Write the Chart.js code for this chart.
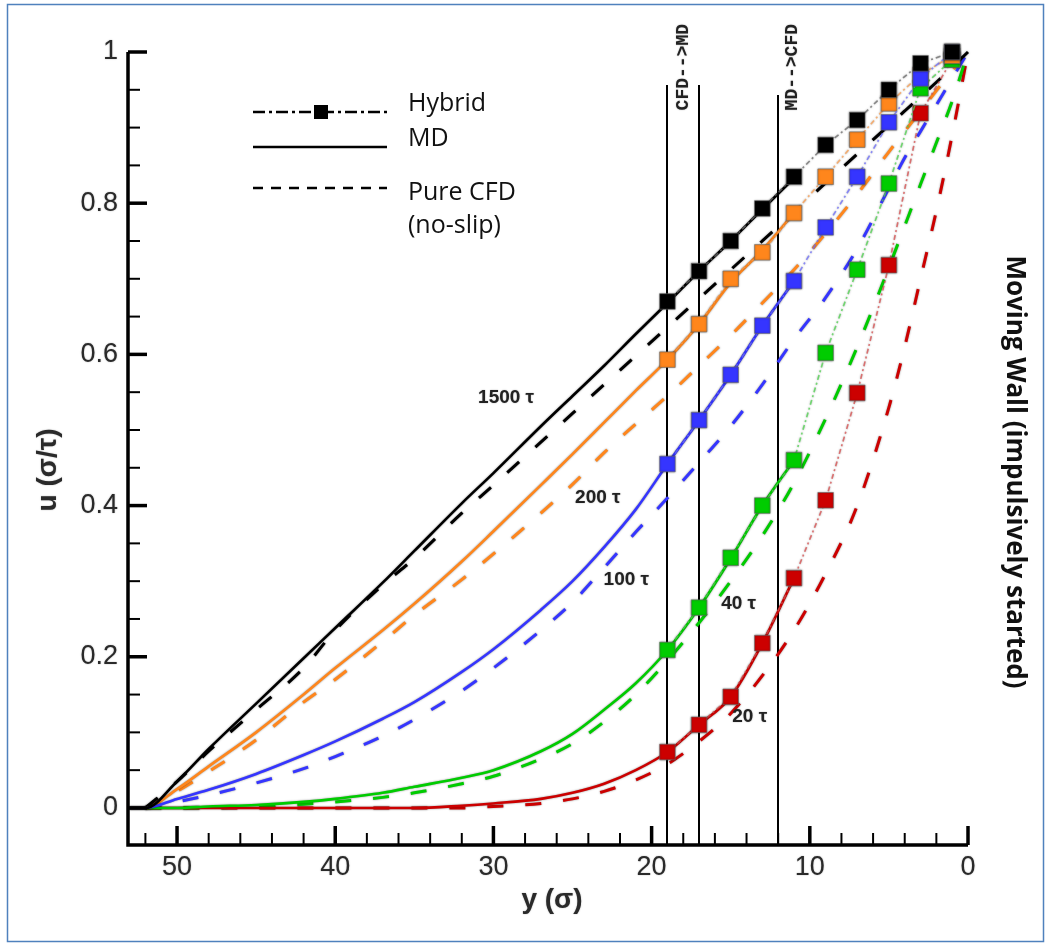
<!DOCTYPE html>
<html>
<head>
<meta charset="utf-8">
<script src="https://cdn.jsdelivr.net/npm/chart.js@4.4.1/dist/chart.umd.min.js"></script>
<style>
  html, body { margin: 0; padding: 0; background: #fff; }
  #wrap { width: 1051px; height: 947px; position: relative; }
</style>
</head>
<body>
<div id="wrap"><canvas id="chart" width="1051" height="947"></canvas></div>
<script>
// ---- data: y (sigma) positions and u (sigma/tau) values ----
const yMD  = [53, 52, 50, 48, 45, 42, 40, 37, 35, 32, 30, 27, 25, 23, 21, 19, 17, 15, 13, 11];
const md1500 = [0, 0, 0.035, 0.078, 0.138, 0.198, 0.238, 0.298, 0.34, 0.403, 0.443, 0.505, 0.545, 0.585, 0.627, 0.668, 0.71, 0.75, 0.792, 0.833];
const md200  = [0, 0, 0.025, 0.055, 0.1, 0.15, 0.185, 0.235, 0.27, 0.326, 0.366, 0.427, 0.468, 0.51, 0.552, 0.593, 0.64, 0.695, 0.738, 0.787];
const md100  = [0, 0, 0.012, 0.024, 0.045, 0.07, 0.088, 0.118, 0.14, 0.18, 0.21, 0.262, 0.3, 0.345, 0.395, 0.455, 0.513, 0.573, 0.638, 0.697];
const md40   = [0, 0, 0, 0.002, 0.004, 0.008, 0.012, 0.02, 0.028, 0.04, 0.05, 0.075, 0.098, 0.13, 0.165, 0.209, 0.265, 0.33, 0.4, 0.46];
const md20   = [0, 0, 0, 0, 0, 0, 0, 0, 0, 0.003, 0.006, 0.012, 0.02, 0.032, 0.05, 0.074, 0.11, 0.147, 0.218, 0.304];

const yCFD = [52, 50, 48, 45, 42, 40, 37, 35, 32, 30, 27, 25, 23, 21, 19, 17, 15, 13, 11, 9, 7, 5, 4, 3, 2, 1, 0];
const cfd1500 = [0, 0.035, 0.075, 0.13, 0.185, 0.235, 0.295, 0.33, 0.39, 0.427, 0.484, 0.522, 0.56, 0.598, 0.636, 0.674, 0.712, 0.75, 0.788, 0.827, 0.865, 0.903, 0.922, 0.941, 0.96, 0.98, 1.0];
const cfd200  = [0, 0.022, 0.048, 0.09, 0.14, 0.17, 0.22, 0.255, 0.302, 0.336, 0.39, 0.428, 0.47, 0.508, 0.545, 0.585, 0.625, 0.668, 0.712, 0.76, 0.812, 0.868, 0.895, 0.922, 0.949, 0.975, 1.0];
const cfd100  = [0, 0.008, 0.017, 0.033, 0.052, 0.068, 0.095, 0.117, 0.155, 0.185, 0.235, 0.272, 0.318, 0.365, 0.41, 0.457, 0.505, 0.56, 0.62, 0.675, 0.74, 0.82, 0.86, 0.895, 0.93, 0.965, 1.0];
const cfd40   = [0, 0, 0, 0.002, 0.005, 0.008, 0.014, 0.02, 0.032, 0.042, 0.065, 0.085, 0.114, 0.15, 0.195, 0.245, 0.3, 0.36, 0.43, 0.515, 0.61, 0.715, 0.77, 0.825, 0.88, 0.935, 1.0];
const cfd20   = [0, 0, 0, 0, 0, 0, 0, 0, 0, 0.002, 0.006, 0.012, 0.022, 0.037, 0.058, 0.088, 0.125, 0.175, 0.235, 0.31, 0.4, 0.53, 0.61, 0.7, 0.79, 0.89, 1.0];

const yHyb = [19, 17, 15, 13, 11, 9, 7, 5, 3, 1];
const hyb1500 = [0.67, 0.71, 0.75, 0.793, 0.835, 0.877, 0.91, 0.95, 0.985, 1.0];
const hyb200  = [0.593, 0.64, 0.70, 0.735, 0.787, 0.835, 0.884, 0.932, 0.97, 0.995];
const hyb100  = [0.455, 0.513, 0.573, 0.638, 0.697, 0.768, 0.835, 0.907, 0.965, 1.0];
const hyb40   = [0.209, 0.265, 0.331, 0.40, 0.46, 0.602, 0.712, 0.826, 0.952, 0.99];
const hyb20   = [0.074, 0.11, 0.147, 0.218, 0.304, 0.407, 0.549, 0.718, 0.919, 0.99];

const xTicks = [50, 40, 30, 20, 10, 0];
const yTicks = [0, 0.2, 0.4, 0.6, 0.8, 1];
const yTickLabels = ['0', '0.2', '0.4', '0.6', '0.8', '1'];
const couplingLines = [19, 17, 12];

// curve labels: text, y position, u position
const curveLabels = [
  ['1500 \u03c4', 29.2, 0.542],
  ['200 \u03c4', 23.4, 0.41],
  ['100 \u03c4', 21.6, 0.302],
  ['40 \u03c4', 14.5, 0.27],
  ['20 \u03c4', 13.8, 0.12]
];

const colors = {
  1500: '#000000',
  200: '#ff861c',
  100: '#3535ff',
  40: '#00cc00',
  20: '#cc0000'
};
const hybLine = {
  1500: 'rgba(110,110,110,0.75)',
  200: 'rgba(255,160,80,0.75)',
  100: 'rgba(110,110,255,0.75)',
  40: 'rgba(80,215,80,0.75)',
  20: 'rgba(220,80,80,0.75)'
};

function pts(xs, ys) {
  return xs.map((x, i) => ({ x: x, y: ys[i] }));
}

const series = [
  [1500, md1500, cfd1500, hyb1500],
  [100, md100, cfd100, hyb100],
  [200, md200, cfd200, hyb200],
  [40, md40, cfd40, hyb40],
  [20, md20, cfd20, hyb20]
];

const datasets = [];
series.forEach(s => {
  const t = s[0];
  datasets.push({
    data: pts(yHyb, s[3]),
    borderColor: hybLine[t],
    borderWidth: 1.6,
    borderDash: [5, 3, 2, 3],
    pointStyle: 'rect',
    pointRadius: 11,
    pointBackgroundColor: colors[t],
    pointBorderColor: 'rgba(110,110,110,0.55)',
    pointBorderWidth: 1,
    order: 0,
    clip: false
  });
});
series.forEach(s => {
  const t = s[0];
  datasets.push({
    data: pts(yMD, s[1]),
    borderColor: colors[t],
    borderWidth: 2.6,
    pointRadius: 0,
    cubicInterpolationMode: 'monotone',
    order: 1,
    clip: false
  });
  datasets.push({
    data: pts(yCFD, s[2]),
    borderColor: colors[t],
    borderWidth: 3,
    borderDash: [16, 22],
    pointRadius: 0,
    cubicInterpolationMode: 'monotone',
    order: 2,
    clip: false
  });
});

const halo = {
  id: 'halo',
  beforeDatasetDraw(chart) {
    const ctx = chart.ctx;
    ctx.save();
    ctx.shadowColor = 'rgba(0,0,0,0.45)';
    ctx.shadowBlur = 2;
  },
  afterDatasetDraw(chart) {
    chart.ctx.restore();
  }
};

const frame = {
  id: 'frame',
  beforeDraw(chart) {
    const ctx = chart.ctx;
    ctx.save();
    ctx.fillStyle = '#fff';
    ctx.fillRect(0, 0, chart.width, chart.height);
    ctx.strokeStyle = '#4f81bd';
    ctx.lineWidth = 1.5;
    ctx.strokeRect(7.5, 4.5, 1036, 937);
    ctx.restore();
  },
  beforeDatasetsDraw(chart) {
    const ctx = chart.ctx, xs = chart.scales.x, a = chart.chartArea;
    ctx.save();
    ctx.strokeStyle = '#000';
    ctx.lineWidth = 2;
    couplingLines.forEach((v, i) => {
      const px = Math.round(xs.getPixelForValue(v));
      ctx.beginPath();
      ctx.moveTo(px, i < 2 ? 85 : 95);
      ctx.lineTo(px, a.bottom);
      ctx.stroke();
    });
    ctx.restore();
  },
  afterDraw(chart) {
    const ctx = chart.ctx, xs = chart.scales.x, ys = chart.scales.y, a = chart.chartArea;
    ctx.save();
    // axis lines
    ctx.strokeStyle = '#000';
    ctx.lineWidth = 3.5;
    ctx.beginPath();
    ctx.moveTo(a.left, a.top);
    ctx.lineTo(a.left, a.bottom);
    ctx.lineTo(a.right, a.bottom);
    ctx.stroke();

    // x ticks (inward)
    for (let v = 0; v <= 52; v += 2) {
      const px = xs.getPixelForValue(v);
      const major = v % 10 === 0;
      ctx.lineWidth = major ? 3.5 : 2;
      ctx.beginPath();
      ctx.moveTo(px, a.bottom);
      ctx.lineTo(px, a.bottom - (major ? 19 : 12));
      ctx.stroke();
    }
    // y ticks (inward)
    for (let k = 0; k <= 20; k++) {
      const v = k * 0.05;
      const py = ys.getPixelForValue(v);
      const major = k % 4 === 0;
      ctx.lineWidth = major ? 3.5 : 2;
      ctx.beginPath();
      ctx.moveTo(a.left, py);
      ctx.lineTo(a.left + (major ? 19 : 12), py);
      ctx.stroke();
    }

    // tick labels
    ctx.shadowColor = 'rgba(0,0,0,0.35)';
    ctx.shadowBlur = 1.5;
    ctx.fillStyle = '#2a2a2a';
    ctx.font = '27px "Liberation Sans", Arial, sans-serif';
    ctx.textAlign = 'center';
    ctx.textBaseline = 'middle';
    xTicks.forEach(v => ctx.fillText(String(v), xs.getPixelForValue(v), 868));
    ctx.textAlign = 'right';
    yTicks.forEach((v, i) => ctx.fillText(yTickLabels[i], a.left - 10, ys.getPixelForValue(v)));

    // axis titles
    ctx.font = 'bold 28px "Liberation Sans", Arial, sans-serif';
    ctx.textAlign = 'center';
    ctx.fillText('y (\u03c3)', 552, 900);
    ctx.save();
    ctx.translate(48, 470);
    ctx.rotate(-Math.PI / 2);
    ctx.fillText('u (\u03c3/\u03c4)', 0, 0);
    ctx.restore();

    // curve labels
    ctx.font = 'bold 19px "Liberation Sans", Arial, sans-serif';
    ctx.fillStyle = '#222';
    curveLabels.forEach(l => {
      ctx.fillText(l[0], xs.getPixelForValue(l[1]), ys.getPixelForValue(l[2]));
    });

    // coupling labels
    ctx.font = 'bold 18px "Liberation Mono", monospace';
    ctx.textAlign = 'right';
    [['CFD-->MD', 683], ['MD-->CFD', 792]].forEach(l => {
      ctx.save();
      ctx.translate(l[1], 24);
      ctx.rotate(-Math.PI / 2);
      ctx.fillText(l[0], 0, 0);
      ctx.restore();
    });
    ctx.shadowBlur = 0;
    ctx.shadowColor = 'transparent';

    // legend
    ctx.strokeStyle = '#000';
    ctx.lineWidth = 2.5;
    ctx.setLineDash([12, 4, 3, 4]);
    ctx.beginPath(); ctx.moveTo(253, 112); ctx.lineTo(387, 112); ctx.stroke();
    ctx.setLineDash([]);
    ctx.fillStyle = '#000';
    ctx.fillRect(314, 105, 14, 14);
    ctx.beginPath(); ctx.moveTo(253, 147); ctx.lineTo(387, 147); ctx.stroke();
    ctx.setLineDash([10, 8]);
    ctx.beginPath(); ctx.moveTo(253, 188); ctx.lineTo(387, 188); ctx.stroke();
    ctx.setLineDash([]);
    ctx.fillStyle = '#111';
    ctx.font = '25px "Open Sans", sans-serif';
    ctx.textAlign = 'left';
    ctx.fillText('Hybrid', 408, 104);
    ctx.fillText('MD', 408, 139);
    ctx.fillText('Pure CFD', 408, 193);
    ctx.fillText('(no-slip)', 408, 226);

    // right title
    ctx.font = 'bold 26px "Open Sans", sans-serif';
    ctx.textAlign = 'center';
    ctx.save();
    ctx.translate(1014, 472);
    ctx.rotate(Math.PI / 2);
    ctx.fillText('Moving Wall (impulsively started)', 0, 0);
    ctx.restore();
    ctx.restore();
  }
};

new Chart(document.getElementById('chart'), {
  type: 'line',
  data: { datasets: datasets },
  options: {
    responsive: false,
    animation: false,
    devicePixelRatio: 1,
    layout: { padding: { left: 128, right: 83, top: 52, bottom: 102 } },
    plugins: { legend: { display: false }, tooltip: { enabled: false } },
    scales: {
      x: { type: 'linear', reverse: true, min: 0, max: 53.1, display: false },
      y: { type: 'linear', min: -0.049, max: 1.0, display: false }
    }
  },
  plugins: [frame, halo]
});
</script>
</body>
</html>
